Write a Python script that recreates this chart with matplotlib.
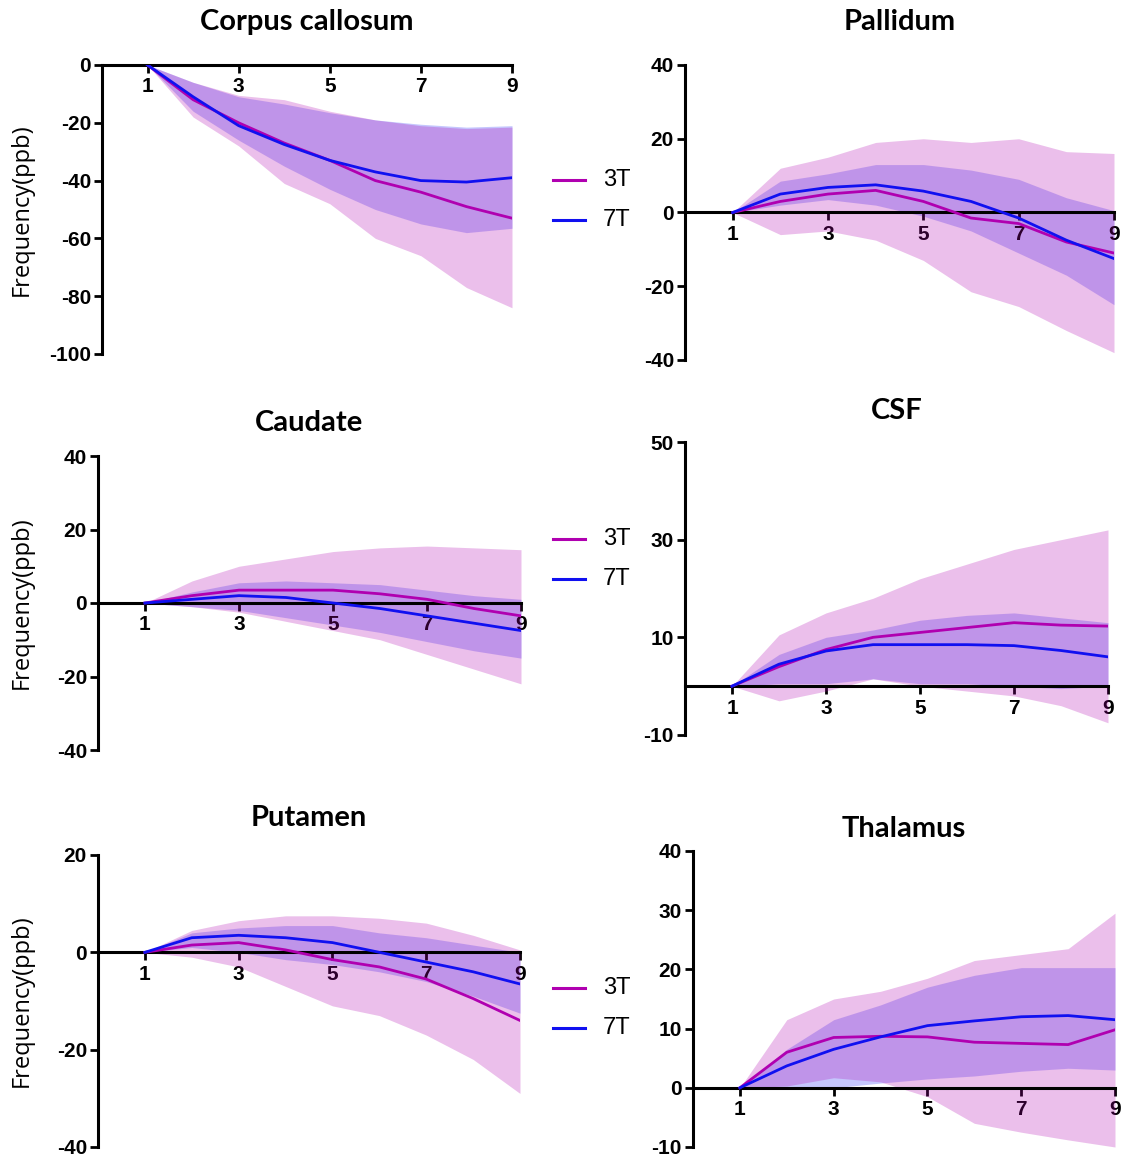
import matplotlib
matplotlib.use("Agg")
import matplotlib.pyplot as plt
from matplotlib.lines import Line2D

x = [1, 2, 3, 4, 5, 6, 7, 8, 9]
xticks = [1, 3, 5, 7, 9]
series_names = ["3T", "7T"]

titles = ["Corpus callosum", "Pallidum", "Caudate", "CSF", "Putamen", "Thalamus"]

# Corpus callosum
cc_3t = [0, -12, -20, -27, -33, -40, -44, -49, -53]
cc_3t_lo = [0, -18, -28, -41, -48, -60, -66, -77, -84]
cc_3t_hi = [0, -6, -10.5, -12, -16, -19, -21, -22, -21.5]
cc_7t = [0, -11, -21, -27.5, -33, -37, -40, -40.5, -39]
cc_7t_lo = [0, -16, -26, -35, -43, -50, -55, -58, -56.5]
cc_7t_hi = [0, -6, -11, -13.5, -16.5, -19, -20.5, -21.5, -21]

# Pallidum
pa_3t = [0, 3, 5, 6, 3, -1.5, -3, -8, -11]
pa_3t_lo = [0, -6, -5, -7.5, -13, -21.5, -25.5, -32, -38]
pa_3t_hi = [0, 12, 15, 19, 20, 19, 20, 16.5, 16]
pa_7t = [0, 5, 6.8, 7.5, 5.8, 3, -1.5, -7.5, -12.5]
pa_7t_lo = [0, 2, 3.5, 2, -1, -5, -11, -17, -25]
pa_7t_hi = [0, 8.5, 10.5, 13, 13, 11.5, 9, 4, 0.5]

# Caudate
ca_3t = [0, 2, 3.5, 3.5, 3.5, 2.5, 1, -1.5, -3.5]
ca_3t_lo = [0, -1, -2.5, -5, -7.5, -10, -14, -18, -22]
ca_3t_hi = [0, 6, 10, 12, 14, 15, 15.5, 15, 14.5]
ca_7t = [0, 1, 2, 1.5, 0, -1.5, -3.5, -5.5, -7.5]
ca_7t_lo = [0, -1, -2, -4, -6, -8, -10.5, -13, -15]
ca_7t_hi = [0, 3, 5.5, 6, 5.5, 5, 3.5, 2, 1]

# CSF
cs_3t = [0, 4, 7.5, 10, 11, 12, 13, 12.5, 12.3]
cs_3t_lo = [0, -3, -1, 1.5, 0, -1, -2, -4, -7.5]
cs_3t_hi = [0, 10.5, 15, 18, 22, 25, 28, 30, 32]
cs_7t = [0, 4.5, 7.2, 8.5, 8.5, 8.5, 8.3, 7.3, 6]
cs_7t_lo = [0, 0.5, 0.5, 1.5, 0.5, 0.5, 0, -0.5, 0]
cs_7t_hi = [0, 6.5, 10, 11.5, 13.5, 14.5, 15, 14, 13]

# Putamen
pu_3t = [0, 1.5, 2, 0.5, -1.5, -3, -5.5, -9.5, -14]
pu_3t_lo = [0, -1, -3, -7, -11, -13, -17, -22, -29]
pu_3t_hi = [0, 4.5, 6.5, 7.5, 7.5, 7, 6, 3.5, 0.5]
pu_7t = [0, 3, 3.5, 3, 2, 0, -2, -4, -6.5]
pu_7t_lo = [0, 1, 0, -1.5, -2.5, -4, -6, -9, -12.5]
pu_7t_hi = [0, 4, 5, 5.5, 5.5, 4, 3, 1.5, 0]

# Thalamus
th_3t = [0, 6, 8.5, 8.7, 8.6, 7.7, 7.5, 7.3, 9.8]
th_3t_lo = [0, 0.3, 1.7, 1, -1.5, -6, -7.5, -8.8, -10]
th_3t_hi = [0, 11.5, 15, 16.3, 18.5, 21.5, 22.5, 23.5, 29.5]
th_7t = [0, 3.7, 6.5, 8.6, 10.5, 11.3, 12, 12.2, 11.5]
th_7t_lo = [0, 0, 0, 0.8, 1.5, 2, 2.8, 3.3, 3]
th_7t_hi = [0, 6.5, 11.5, 14, 17, 19, 20.3, 20.3, 20.3]

panels = [
    (cc_3t, cc_3t_lo, cc_3t_hi, cc_7t, cc_7t_lo, cc_7t_hi),
    (pa_3t, pa_3t_lo, pa_3t_hi, pa_7t, pa_7t_lo, pa_7t_hi),
    (ca_3t, ca_3t_lo, ca_3t_hi, ca_7t, ca_7t_lo, ca_7t_hi),
    (cs_3t, cs_3t_lo, cs_3t_hi, cs_7t, cs_7t_lo, cs_7t_hi),
    (pu_3t, pu_3t_lo, pu_3t_hi, pu_7t, pu_7t_lo, pu_7t_hi),
    (th_3t, th_3t_lo, th_3t_hi, th_7t, th_7t_lo, th_7t_hi),
]

ylims = [(-100, 0), (-40, 40), (-40, 40), (-10, 50), (-40, 20), (-10, 40)]
yticks = [[0, -20, -40, -60, -80, -100], [-40, -20, 0, 20, 40], [-40, -20, 0, 20, 40],
          [-10, 10, 30, 50], [-40, -20, 0, 20], [-10, 0, 10, 20, 30, 40]]

# axes pixel boxes: (left px, right px, top px, bottom px)
W, H = 1129, 1162
boxes = [
    (102, 512, 65, 354),
    (685, 1114, 65, 360),
    (98, 521, 456, 750),
    (685, 1108, 442, 735),
    (98, 520, 855, 1147),
    (693, 1115, 851, 1147),
]
title_y = [22, 22, 423, 411, 818, 829]
legend_y = [(180, 220), (539, 579), (988, 1028)]

c3 = "#b000b0"
c7 = "#1010f0"
band3 = (0.69, 0.0, 0.69, 0.25)
band7 = (0.25, 0.27, 0.98, 0.30)

tick_font = dict(family=["Liberation Sans Narrow", "Liberation Sans", "DejaVu Sans"],
                 weight="bold", size=15)

fig = plt.figure(figsize=(W / 100, H / 100), dpi=100)

for i, (vals, box) in enumerate(zip(panels, boxes)):
    m3, lo3, hi3, m7, lo7, hi7 = vals
    l, r, t, b = box
    ax = fig.add_axes([l / W, 1 - b / H, (r - l) / W, (b - t) / H])
    ax.spines["top"].set_visible(False)
    ax.spines["right"].set_visible(False)
    ax.spines["bottom"].set_position(("data", 0))
    ax.spines["bottom"].set_zorder(3)
    for s in ("left", "bottom"):
        ax.spines[s].set_linewidth(2.2)
        ax.spines[s].set_color("black")
    ax.fill_between(x, lo7, hi7, color=band7, linewidth=0, zorder=1)
    ax.fill_between(x, lo3, hi3, color=band3, linewidth=0, zorder=2)
    ax.plot(x, m3, color=c3, lw=2.0, zorder=4)
    ax.plot(x, m7, color=c7, lw=2.0, zorder=5)
    ax.set_xlim(0, 9)
    ax.set_ylim(*ylims[i])
    ax.set_yticks(yticks[i])
    ax.set_xticks(xticks)
    ax.set_yticklabels([str(v) for v in yticks[i]], fontdict=tick_font)
    ax.set_xticklabels([str(v) for v in xticks], fontdict=tick_font)
    ax.tick_params(axis="both", length=6, width=2.0, color="black", pad=2)
    ax.tick_params(axis="x", pad=3)
    ax.patch.set_alpha(0)
    cx = (l + r) / 2
    fig.text(cx / W, 1 - title_y[i] / H, titles[i], ha="center", va="center",
             fontsize=21, fontweight="bold", family=["Lato", "DejaVu Sans"])
    if i % 2 == 0:
        fig.text(22 / W, 1 - ((t + b) / 2) / H, "Frequency(ppb)", rotation=90,
                 ha="center", va="center", fontsize=17,
                 family=["Open Sans", "DejaVu Sans"])

for i, (y3, y7) in enumerate(legend_y):
    for yy, col, lab in ((y3, c3, series_names[0]), (y7, c7, series_names[1])):
        fig.add_artist(Line2D([553 / W, 585 / W], [1 - yy / H, 1 - yy / H], color=col, lw=2.2))
        fig.text(603 / W, 1 - yy / H, lab, ha="left", va="center", fontsize=17,
                 family=["Liberation Sans", "DejaVu Sans"])

fig.savefig("out.png", dpi=100)
